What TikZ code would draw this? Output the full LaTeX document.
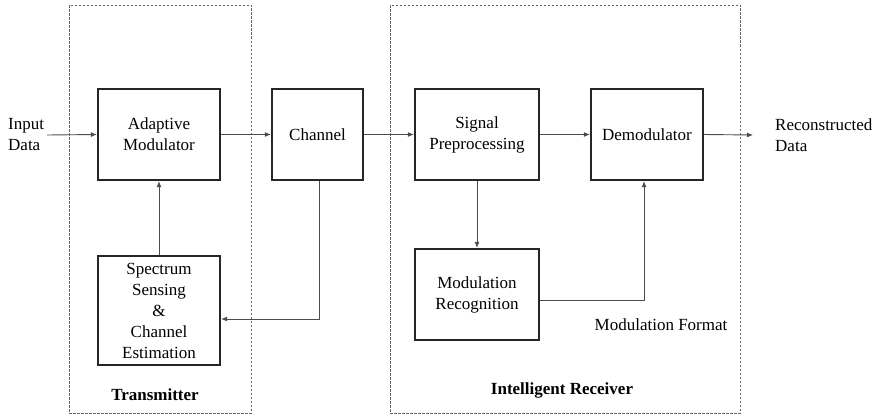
\documentclass[tikz,border=0pt]{standalone}
\usepackage{fontspec}
\setmainfont{Liberation Serif}
\newfontfamily\tnr{Liberation Serif}
\usetikzlibrary{arrows.meta}
\begin{document}
\begin{tikzpicture}[x=1pt,y=-1pt,
  blk/.style={draw=black!85, line width=2.2pt, rectangle, align=center, inner sep=0pt},
  arr/.style={draw=black!70, line width=0.9pt, -{Latex[length=6pt,width=5pt]}},
  grp/.style={draw=black!60, line width=0.8pt, dash pattern=on 2.5pt off 1.5pt},
  txt/.style={align=left, inner sep=0pt},
  every node/.style={font=\tnr\fontsize{17}{21}\selectfont}]
\useasboundingbox (0,0) rectangle (880,415);
% group frames
\draw[grp] (69,5) rectangle (251,413);
\draw[grp] (390,5) rectangle (740,413);
% blocks
\node[blk, minimum width=122pt, minimum height=91pt] (am) at (159,134.5) {Adaptive\\Modulator};
\node[blk, minimum width=91pt, minimum height=91pt] (ch) at (317.5,134.5) {Channel};
\node[blk, minimum width=124pt, minimum height=91pt] (sp) at (477,134.5) {Signal\\Preprocessing};
\node[blk, minimum width=112pt, minimum height=91pt] (dm) at (647,134.5) {Demodulator};
\node[blk, minimum width=122pt, minimum height=109pt] (ss) at (159,310.5) {Spectrum\\Sensing\\\&\\Channel\\Estimation};
\node[blk, minimum width=124pt, minimum height=91pt] (mr) at (477,294.5) {Modulation\\Recognition};
% labels
\node[txt, anchor=west] (in) at (8,135) {Input\\Data};
\node[txt, anchor=west] (out) at (775,135) {Reconstructed\\Data};
\node[inner sep=0pt] (mf) at (661,325) {Modulation Format};
\node[inner sep=0pt, font=\tnr\fontsize{17}{21}\selectfont\bfseries] (tx) at (155,395) {Transmitter};
\node[inner sep=0pt, font=\tnr\fontsize{17}{21}\selectfont\bfseries] (rx) at (562,390) {Intelligent Receiver};
\coordinate (inA) at (47,135);
\coordinate (outB) at (753,135);
% connectors
\draw[arr] (inA) -- (am.west);
\draw[arr] (am.east) -- (ch.west);
\draw[arr] (ch.east) -- (sp.west);
\draw[arr] (sp.east) -- (dm.west);
\draw[arr] (dm.east) -- (outB);
\draw[arr] (ss.north) -- (am.south);
\draw[arr] ([xshift=1.5pt]ch.south) |- ([yshift=-8.5pt]ss.east);
\draw[arr] (sp.south) -- (mr.north);
\draw[arr] ([yshift=-5.5pt]mr.east) -| ([xshift=-3pt]dm.south);
\end{tikzpicture}
\end{document}
